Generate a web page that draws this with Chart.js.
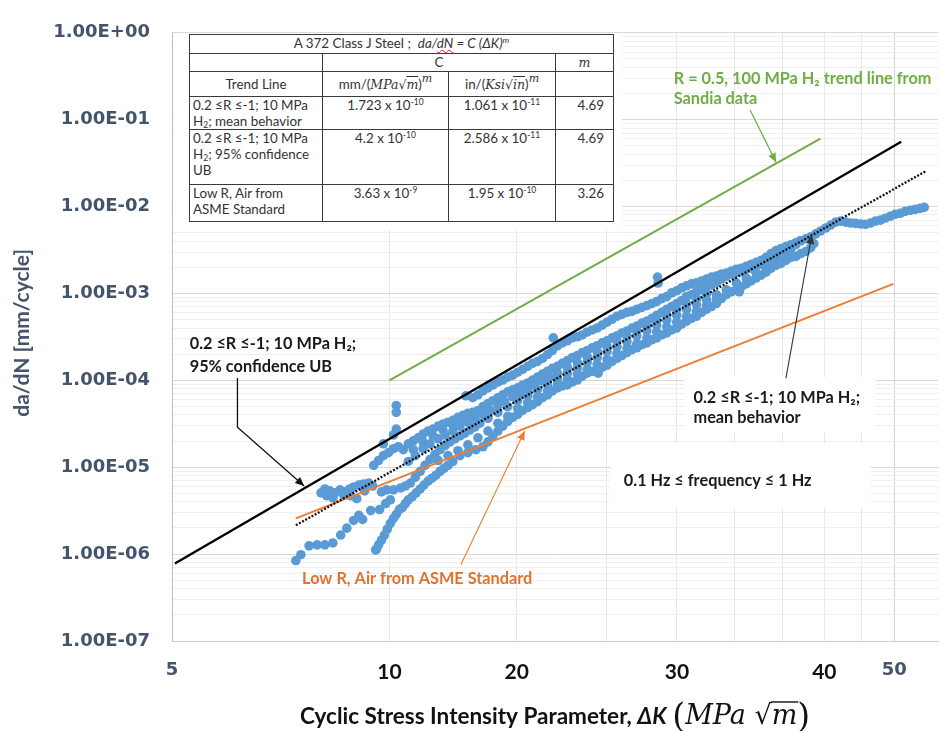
<!DOCTYPE html>
<html><head><meta charset="utf-8">
<script src="https://cdn.jsdelivr.net/npm/chart.js@4.4.1/dist/chart.umd.min.js"></script>
<style>
html,body{margin:0;padding:0;background:#fff;}
#wrap{position:relative;width:943px;height:731px;overflow:hidden;background:#fff;}
#c{position:absolute;left:0;top:0;}
#tbl{position:absolute;left:189px;top:34px;width:424px;border-collapse:collapse;table-layout:fixed;
 font-family:Lato,"Open Sans",sans-serif;font-size:13.4px;color:#333;background:#fff;}
#tbl td{border:1px solid #3a3a3a;padding:0 3px;line-height:16px;vertical-align:top;overflow:hidden;white-space:nowrap;}
#tbl td.c{text-align:center;}
#tbl td.r{text-align:right;padding-right:9px;}
#tbl td.mid{vertical-align:middle;}
#tbl .mi{font-family:"DejaVu Serif",serif;font-style:italic;font-size:12.5px;}
#tbl sup{font-size:8.5px;vertical-align:5px;line-height:0;}
#tbl sup.mi{font-size:11px;vertical-align:7px;}
#tbl sub{font-size:8.5px;vertical-align:-2px;line-height:0;}
#tbl .sq{text-decoration:underline wavy #d22;text-decoration-thickness:1px;}
#tbl .ov{text-decoration:overline;}
</style></head>
<body>
<div id="wrap">
<canvas id="c" width="943" height="731"></canvas>
<table id="tbl">
<colgroup><col style="width:133px"><col style="width:126px"><col style="width:107px"><col style="width:58px"></colgroup>
<tr style="height:19px"><td class="c" colspan="4">A 372 Class J Steel ;&nbsp; <i>da/<span class="sq">dN</span> = C (ΔK)</i><sup><i>m</i></sup></td></tr>
<tr style="height:18px"><td></td><td class="c" colspan="2">C</td><td class="c"><span class="mi">m</span></td></tr>
<tr style="height:25px"><td class="c mid">Trend Line</td><td class="c mid">mm/(<span class="mi">MPa√<span class="ov">m</span></span>)<sup class="mi">m</sup></td><td class="c mid">in/(<span class="mi">Ksi√<span class="ov">in</span></span>)<sup class="mi">m</sup></td><td></td></tr>
<tr style="height:32px"><td>0.2 ≤R ≤-1; 10 MPa<br>H<sub>2</sub>; mean behavior</td><td class="c">1.723 x 10<sup>-10</sup></td><td class="c">1.061 x 10<sup>-11</sup></td><td class="r">4.69</td></tr>
<tr style="height:55px"><td>0.2 ≤R ≤-1; 10 MPa<br>H<sub>2</sub>; 95% confidence<br>UB</td><td class="c">4.2 x 10<sup>-10</sup></td><td class="c">2.586 x 10<sup>-11</sup></td><td class="r">4.69</td></tr>
<tr style="height:37px"><td>Low R, Air from<br>ASME Standard</td><td class="c">3.63 x 10<sup>-9</sup></td><td class="c">1.95 x 10<sup>-10</sup></td><td class="r">3.26</td></tr>
</table>
</div>
<script>
// ---------------- DATA (ΔK in MPa√m, da/dN in mm/cycle) ----------------
const trackUpper = [[12.76,6.64e-5],[13.04,6.31e-5],[13.26,6.82e-5],[13.47,7.57e-5],[13.69,8.18e-5],[13.91,8.85e-5],[14.13,9.57e-5],[14.35,1.008e-4],[14.58,1.089e-4],[14.81,1.148e-4],
[15.05,1.240e-4],[15.29,1.341e-4],[15.54,1.450e-4],[15.78,1.568e-4],[16.03,1.651e-4],[16.29,1.785e-4],[16.55,1.98e-4],[16.81,2.20e-4],[17.08,2.50e-4],[17.35,2.70e-4],
[17.63,2.85e-4],[17.91,3.08e-4],[18.20,3.17e-4],[18.49,3.33e-4],[18.78,3.60e-4],[19.08,3.80e-4],[19.39,4.00e-4],[19.70,4.32e-4],[20.01,4.68e-4],[20.33,5.05e-4],
[20.65,5.46e-4],[20.98,5.75e-4],[21.32,6.06e-4],[21.66,6.22e-4],[22.00,6.55e-4],[22.36,6.90e-4],[22.72,7.26e-4],[23.08,7.65e-4],[23.44,8.06e-4],[23.82,8.72e-4],
[24.20,9.19e-4],[24.59,1.019e-3],[24.98,1.073e-3],[25.38,1.160e-3],[25.78,1.222e-3],[26.19,1.288e-3],[26.61,1.322e-3],[27.04,1.392e-3],[27.47,1.466e-3],[27.91,1.545e-3],
[28.35,1.585e-3],[28.81,1.669e-3],[29.27,1.713e-3],[29.73,1.805e-3],[30.21,1.90e-3],[30.69,1.95e-3],[31.18,2.05e-3],[31.68,2.16e-3],[32.19,2.28e-3],[32.70,2.40e-3],
[33.22,2.60e-3],[33.75,2.88e-3],[34.29,3.12e-3],[34.84,3.28e-3],[35.39,3.46e-3],[35.96,3.64e-3],[36.53,3.84e-3],[37.11,4.04e-3],[37.71,4.26e-3],[38.31,4.48e-3],
[38.92,4.85e-3],[39.54,5.24e-3],[40.18,5.67e-3],[40.82,6.13e-3],[41.47,6.63e-3],[42.13,6.80e-3],[42.81,6.63e-3],[43.49,6.46e-3],[44.18,6.40e-3],[44.89,6.29e-3],
[45.61,6.25e-3],[46.33,6.46e-3],[47.07,6.80e-3],[47.83,6.98e-3],[48.59,7.35e-3],[49.37,7.74e-3],[50.15,8.15e-3],[50.95,8.37e-3],[51.77,8.81e-3],[52.59,9.04e-3],
[53.43,9.28e-3],[54.29,9.53e-3],[54.99,9.78e-3]];

const trackBandTop = [[9.51,1.050e-5],[9.66,1.195e-5],[9.81,1.361e-5],[9.97,1.471e-5],[10.13,1.633e-5],[10.29,1.72e-5],[10.45,1.59e-5],[10.62,1.86e-5],[10.79,2.01e-5],[10.96,2.18e-5],
[11.13,2.41e-5],[11.31,2.61e-5],[11.49,2.75e-5],[11.68,2.97e-5],[11.86,3.13e-5],[12.05,3.30e-5],[12.24,3.47e-5],[12.44,3.75e-5],[12.64,3.95e-5],[12.84,4.17e-5],
[13.04,4.28e-5],[13.26,4.50e-5],[13.47,4.99e-5],[13.69,5.40e-5],[13.91,5.83e-5],[14.13,6.31e-5],[14.35,6.82e-5],[14.58,7.37e-5],[14.81,7.77e-5],[15.05,8.18e-5],
[15.29,8.85e-5],[15.54,9.32e-5],[15.78,1.008e-4],[16.03,1.089e-4],[16.29,1.178e-4],[16.55,1.273e-4],[16.81,1.376e-4],[17.08,1.450e-4],[17.35,1.568e-4],[17.63,1.695e-4],
[17.91,1.832e-4],[18.20,1.930e-4],[18.49,2.09e-4],[18.78,2.20e-4],[19.08,2.37e-4],[19.39,2.50e-4],[19.70,2.70e-4],[20.01,2.85e-4],[20.33,3.08e-4],[20.65,3.25e-4],
[20.98,3.51e-4],[21.32,3.70e-4],[21.66,4.00e-4],[22.00,4.21e-4],[22.36,4.56e-4],[22.72,4.80e-4],[23.08,5.18e-4],[23.44,5.60e-4],[23.82,6.06e-4],[24.20,6.55e-4],
[24.59,7.08e-4],[24.98,7.65e-4],[25.38,8.27e-4],[25.78,9.19e-4],[26.19,9.68e-4],[26.61,1.046e-3],[27.04,1.101e-3],[27.47,1.191e-3],[27.91,1.254e-3],[28.35,1.322e-3],
[28.81,1.466e-3],[29.27,1.585e-3],[29.73,1.669e-3],[30.21,1.759e-3],[30.69,1.805e-3],[31.18,1.90e-3],[31.68,1.95e-3],[32.19,2.05e-3],[32.70,2.16e-3],[33.22,2.28e-3],
[33.75,2.40e-3],[34.29,2.60e-3],[34.84,2.81e-3],[35.39,3.04e-3],[35.96,3.28e-3],[36.53,3.64e-3],[37.0,4.04e-3]];

const trackBandTop2 = [[10.79,1.59e-5],[11.13,1.96e-5],[11.49,2.29e-5],[11.86,2.68e-5],[12.24,3.05e-5],[12.64,3.47e-5],[13.04,3.85e-5],[13.47,4.62e-5]];

const trackBandMid = [[9.75,5.20e-6],[9.91,5.48e-6],[10.13,5.48e-6],[10.36,5.77e-6],[10.52,6.08e-6],[10.69,6.58e-6],[10.86,7.67e-6],[11.03,8.98e-6],[11.20,1.050e-5],[11.38,1.226e-5],
[11.56,1.397e-5],[11.75,1.59e-5],[11.94,1.77e-5],[12.13,1.96e-5],[12.32,2.12e-5],[12.52,2.29e-5],[12.72,2.47e-5],[12.92,2.68e-5],[13.13,2.90e-5],[13.34,3.21e-5],
[13.69,3.65e-5],[14.13,4.28e-5],[14.58,4.99e-5],[15.05,5.83e-5],[15.54,6.64e-5],[16.03,7.77e-5],[16.55,8.85e-5],[17.08,1.034e-4],[17.63,1.209e-4],[18.20,1.376e-4],
[18.78,1.609e-4],[19.39,1.832e-4],[20.01,2.14e-4],[20.65,2.44e-4],[21.32,2.78e-4],[22.00,3.25e-4],[22.72,3.70e-4],[23.44,4.32e-4],[24.20,4.93e-4],[24.98,5.60e-4],
[25.78,6.55e-4],[26.61,7.45e-4],[27.47,8.49e-4],[28.35,9.68e-4],[29.27,1.101e-3],[30.21,1.322e-3],[31.18,1.505e-3],[32.19,1.713e-3],[33.22,1.95e-3],[34.29,2.22e-3]];

const trackBandMid2 = [[10.62,1.165e-5],[10.86,1.361e-5],[11.13,1.633e-5],[11.38,1.86e-5],[11.68,2.12e-5],[11.94,2.35e-5],[12.24,2.61e-5],[12.52,2.97e-5],[12.84,3.30e-5],[13.13,3.65e-5],
[13.47,4.06e-5],[13.78,4.50e-5],[14.13,5.12e-5],[14.44,5.68e-5],[14.81,6.47e-5],[15.15,7.18e-5],[15.54,7.97e-5],[15.88,8.85e-5],[16.29,9.82e-5],[16.66,1.089e-4],
[17.08,1.209e-4],[17.63,1.413e-4],[18.20,1.609e-4],[18.78,1.880e-4],[19.39,2.14e-4],[20.01,2.44e-4],[20.65,2.85e-4],[21.32,3.25e-4],[22.00,3.70e-4],[22.72,4.21e-4],
[23.44,4.93e-4],[24.20,5.60e-4],[24.98,6.55e-4],[25.78,7.65e-4],[26.61,8.72e-4],[27.47,9.93e-4]];

const trackBandMid3 = [[11.68,1.195e-5],[12.05,1.361e-5],[12.44,1.55e-5],[12.84,1.81e-5],[13.26,2.18e-5],[13.69,2.61e-5],[14.13,3.21e-5],[14.58,3.85e-5],[15.05,4.74e-5],[15.54,5.54e-5],
[16.03,6.47e-5],[16.55,7.57e-5],[17.08,8.85e-5],[17.63,1.034e-4],[18.20,1.178e-4],[18.78,1.341e-4],[19.39,1.528e-4],[20.01,1.739e-4],[20.65,2.03e-4],[21.32,2.32e-4],
[22.00,2.63e-4],[22.72,3.08e-4],[23.44,3.60e-4],[24.20,4.10e-4],[24.98,4.68e-4],[25.78,5.46e-4],[26.61,6.22e-4],[27.47,7.26e-4],[28.35,8.49e-4]];

const trackBandLow = [[12.52,1.361e-5],[12.84,1.471e-5],[13.17,1.59e-5],[13.47,1.72e-5],[13.69,1.96e-5],[13.91,2.29e-5],[14.13,2.61e-5],[14.35,2.97e-5],[14.58,3.38e-5],[14.81,3.75e-5],
[15.05,4.06e-5],[15.29,4.50e-5],[15.54,4.87e-5],[15.78,5.26e-5],[16.03,5.68e-5],[16.29,6.31e-5],[16.55,6.82e-5],[16.81,7.57e-5],[17.08,8.18e-5],[17.35,8.62e-5],
[17.63,8.85e-5],[17.91,9.57e-5],[18.20,1.008e-4],[18.49,1.118e-4],[18.78,1.209e-4],[19.08,1.273e-4],[19.39,1.307e-4],[19.70,1.413e-4],[20.01,1.489e-4],[20.33,1.651e-4],
[20.65,1.785e-4],[20.98,1.930e-4],[21.32,2.09e-4],[21.66,2.26e-4],[22.00,2.37e-4],[22.36,2.57e-4],[22.72,2.70e-4],[23.08,2.92e-4],[23.44,3.08e-4],[23.82,3.33e-4],
[24.20,3.51e-4],[24.59,3.80e-4],[24.98,4.00e-4],[25.38,4.43e-4],[25.78,4.80e-4],[26.19,5.18e-4],[26.61,5.46e-4],[27.04,6.06e-4],[27.47,6.55e-4],[27.91,7.08e-4],
[28.35,7.65e-4],[28.81,8.72e-4],[29.27,9.68e-4],[29.73,1.046e-3],[30.21,1.101e-3],[30.69,1.191e-3],[31.18,1.288e-3],[31.68,1.392e-3],[32.19,1.505e-3],[32.70,1.627e-3],
[33.22,1.759e-3],[33.75,1.95e-3],[34.29,2.11e-3],[34.84,2.22e-3],[35.39,2.40e-3],[35.96,2.60e-3],[36.53,2.67e-3],[37.11,2.88e-3],[37.71,3.04e-3],[38.31,3.37e-3],[38.68,3.74e-3]];

const trackSteep = [[9.57,1.12e-6],[9.60,1.151e-6],[9.66,1.277e-6],[9.75,1.454e-6],[9.84,1.657e-6],[9.93,1.936e-6],[10.03,2.26e-6],[10.13,2.58e-6],[10.22,2.86e-6],[10.32,3.26e-6],
[10.42,3.43e-6],[10.52,3.81e-6],[10.62,4.22e-6],[10.75,4.57e-6],[10.89,5.07e-6],[11.03,5.62e-6],[11.16,6.24e-6],[11.31,6.93e-6],[11.45,7.48e-6],[11.60,8.09e-6],
[11.75,8.98e-6],[11.90,9.71e-6],[12.05,1.050e-5],[12.24,1.165e-5]];

const trackLeftRow = [[8.04,5.07e-6],[8.14,5.62e-6],[8.27,5.34e-6],[8.40,5.07e-6],[8.54,5.48e-6],[8.67,5.20e-6],[8.81,5.62e-6],[8.92,5.92e-6],[9.01,4.34e-6],[9.07,6.24e-6],
[9.21,6.41e-6],[9.36,6.58e-6],[9.48,6.08e-6],[8.19,4.69e-6],[8.35,4.45e-6],[8.64,4.81e-6],[8.84,4.69e-6],[9.24,5.34e-6]];

const trackSparse = [[7.42,8.43e-7],[7.54,9.85e-7],[7.74,1.245e-6],[7.94,1.277e-6],[8.14,1.277e-6],[8.35,1.345e-6],[8.56,1.657e-6],[8.73,1.99e-6],[8.92,2.44e-6],[9.07,2.79e-6],
[9.18,2.51e-6],[9.42,3.17e-6],[9.69,3.26e-6],[9.88,3.81e-6],[10.03,4.22e-6]];

const outliers = [[9.81,1.86e-5],[10.13,2.35e-5],[10.22,2.75e-5],[10.22,4.28e-5],[10.22,5.12e-5],[16.86,3.08e-4],[23.5,1.545e-3],[23.55,1.32e-3],[19.45,1.209e-4],[30.5,1.046e-3]];

// trend lines (end points)
const lineUB95   = [[5.046,7.80e-7],[51.1,0.0558]];
const lineMean   = [[7.42,2.15e-6],[55.3,0.0256]];
const lineASME   = [[7.42,2.58e-6],[49.84,1.288e-3]];
const lineSandia = [[10.0,1.0e-4],[39.5,0.0604]];

// axes
const xGridValues = [5,10,15,20,25,30,35,40,45,50];
const xLabelAt    = [5,10,15,25,40,50];
const xLabelText  = ['5','10','20','30','40','50'];
const yDecades      = [1e-7,1e-6,1e-5,1e-4,1e-3,1e-2,1e-1,1];
const yDecadeLabels = ['1.00E-07','1.00E-06','1.00E-05','1.00E-04','1.00E-03','1.00E-02','1.00E-01','1.00E+00'];
const yMinorSteps   = [1,2,3,4,5,6,7,8,9];

// annotations (anchored in data coordinates)
const noteTexts = [
  {k:24.75, v:0.295,   lines:['R = 0.5, 100 MPa H\u2082 trend line from','Sandia data'], color:'#70AD47', lh:20},
  {k:5.29,  v:2.64e-4, lines:['0.2 \u2264R \u2264-1; 10 MPa H\u2082;','95% confidence UB'], color:'#1a1a1a', lh:23},
  {k:7.57,  v:5.14e-7, lines:['Low R, Air from ASME Standard'], color:'#DC7430', lh:20},
  {k:26.36, v:6.31e-5, lines:['0.2 \u2264R \u2264-1; 10 MPa H\u2082;','mean behavior'], color:'#1a1a1a', lh:20},
  {k:21.11, v:6.92e-6, lines:['0.1 Hz \u2264 frequency \u2264 1 Hz'], color:'#1a1a1a', lh:20}
];
const noteArrows = [
  {pts:[[31.58,0.1283],[34.29,0.0324]], color:'#70AD47', w:1.3},
  {pts:[[6.16,1.062e-4],[6.16,2.89e-5],[7.62,6.08e-6]], color:'#111', w:1.3},
  {pts:[[12.56,7.60e-7],[15.39,2.61e-5]], color:'#ED7D31', w:1.1},
  {pts:[[35.39,1.062e-4],[38.43,4.73e-3]], color:'#333', w:1.1}
];
const whiteBoxes = [
  {k0:5.03, k1:20.98, v0:5.4e-3, v1:0.97},
  {k0:25.62, k1:47.07, v0:2.54e-5, v1:1.09e-4},
  {k0:20.2, k1:46.33, v0:3.43e-6, v1:1.86e-5}
];

// ---------------- CHART ----------------
const toXY = arr => arr.map(p => ({x:p[0], y:p[1]}));
const BLUE = '#5B9BD5';
const scatterTracks = [trackUpper, trackBandTop, trackBandTop2, trackBandMid2, trackBandMid, trackBandMid3, trackBandLow, trackSteep, trackLeftRow, trackSparse, outliers];

const datasets = [
  {data:toXY(lineMean), showLine:true, borderColor:'#111', borderWidth:2.3, borderDash:[2,1.6], pointRadius:0, order:0},
  {data:toXY(lineUB95), showLine:true, borderColor:'#000', borderWidth:2.3, pointRadius:0, order:0},
  {data:toXY(lineASME), showLine:true, borderColor:'#ED7D31', borderWidth:2, pointRadius:0, order:0},
  {data:toXY(lineSandia), showLine:true, borderColor:'#70AD47', borderWidth:2, pointRadius:0, order:0}
];
scatterTracks.forEach(t => datasets.push({data:toXY(t), showLine:false, pointRadius:4.8, pointBackgroundColor:BLUE, pointBorderWidth:0, pointBorderColor:BLUE, order:1}));

const yTickValues = [];
yDecades.forEach(d => yMinorSteps.forEach(m => { const v = Number((m*d).toPrecision(3)); if (v <= 1) yTickValues.push(v); }));
const isDecade = v => yDecades.some(d => Math.abs(d - v) / d < 1e-6);

function drawArrowHead(ctx, x0, y0, x1, y1, color) {
  const a = Math.atan2(y1 - y0, x1 - x0), L = 9, W = 4;
  ctx.fillStyle = color;
  ctx.beginPath();
  ctx.moveTo(x1, y1);
  ctx.lineTo(x1 - L*Math.cos(a) + W*Math.sin(a), y1 - L*Math.sin(a) - W*Math.cos(a));
  ctx.lineTo(x1 - L*Math.cos(a) - W*Math.sin(a), y1 - L*Math.sin(a) + W*Math.cos(a));
  ctx.closePath(); ctx.fill();
}

const notesPlugin = {
  id:'notes',
  beforeDatasetsDraw(chart) {
    const {ctx, scales:{x, y}} = chart;
    ctx.save(); ctx.fillStyle = '#fff';
    whiteBoxes.forEach(b => {
      const x0 = x.getPixelForValue(b.k0), x1 = x.getPixelForValue(b.k1);
      const y0 = y.getPixelForValue(b.v0), y1 = y.getPixelForValue(b.v1);
      ctx.fillRect(Math.min(x0,x1), Math.min(y0,y1), Math.abs(x1-x0), Math.abs(y1-y0));
    });
    ctx.restore();
  },
  afterDatasetsDraw(chart) {
    const {ctx, scales:{x, y}} = chart;
    ctx.save();
    noteArrows.forEach(a => {
      const P = a.pts.map(p => [x.getPixelForValue(p[0]), y.getPixelForValue(p[1])]);
      ctx.strokeStyle = a.color; ctx.lineWidth = a.w;
      ctx.beginPath(); ctx.moveTo(P[0][0], P[0][1]);
      for (let i = 1; i < P.length; i++) ctx.lineTo(P[i][0], P[i][1]);
      ctx.stroke();
      const n = P.length;
      drawArrowHead(ctx, P[n-2][0], P[n-2][1], P[n-1][0], P[n-1][1], a.color);
    });
    ctx.font = 'bold 16.3px Lato, "Open Sans", sans-serif';
    ctx.textBaseline = 'middle'; ctx.textAlign = 'left';
    noteTexts.forEach(t => {
      const px = x.getPixelForValue(t.k), py = y.getPixelForValue(t.v);
      ctx.fillStyle = t.color;
      t.lines.forEach((ln, i) => ctx.fillText(ln, px, py + i*t.lh));
    });
    ctx.restore();
  },
  afterDraw(chart) {
    const {ctx, chartArea:ca} = chart;
    ctx.save();
    // y-axis title
    ctx.translate(22, (ca.top + ca.bottom)/2 - 4);
    ctx.rotate(-Math.PI/2);
    ctx.font = 'bold 21px Lato, "Open Sans", sans-serif';
    ctx.fillStyle = '#44546A'; ctx.textAlign = 'center'; ctx.textBaseline = 'middle';
    ctx.fillText('da/dN [mm/cycle]', 0, 0);
    ctx.restore();
    // x-axis title
    ctx.save();
    const parts = [
      {t:'Cyclic Stress Intensity Parameter, ', f:'bold 22.5px Lato, sans-serif'},
      {t:'\u0394K', f:'italic bold 22.5px Lato, sans-serif'},
      {t:' ', f:'22px Lato, sans-serif'},
      {t:'(', f:'33px "DejaVu Serif", serif', dy:3},
      {t:'MPa', f:'italic 27px "DejaVu Serif", serif'},
      {t:' \u221A', f:'27px "DejaVu Serif", serif'},
      {t:'m', f:'italic 27px "DejaVu Serif", serif', over:true},
      {t:')', f:'33px "DejaVu Serif", serif', dy:3}
    ];
    let total = 0;
    parts.forEach(p => { ctx.font = p.f; p.w = ctx.measureText(p.t).width; total += p.w; });
    let xx = (ca.left + ca.right)/2 - total/2;
    const base = ca.bottom + 83;
    ctx.fillStyle = '#111'; ctx.strokeStyle = '#111'; ctx.textBaseline = 'alphabetic'; ctx.textAlign = 'left';
    parts.forEach(p => {
      ctx.font = p.f; ctx.fillText(p.t, xx, base + (p.dy || 0));
      if (p.over) { ctx.lineWidth = 1.4; ctx.beginPath(); ctx.moveTo(xx - 1, base - 22); ctx.lineTo(xx + p.w + 1, base - 22); ctx.stroke(); }
      xx += p.w;
    });
    ctx.restore();
  }
};

new Chart(document.getElementById('c'), {
  type:'scatter',
  data:{datasets},
  options:{
    responsive:false, animation:false,
    layout:{padding:{top:21, right:0, bottom:0, left:0}},
    plugins:{legend:{display:false}, tooltip:{enabled:false}},
    scales:{
      x:{
        type:'logarithmic', min:5, max:57.5, position:'bottom',
        afterBuildTicks: a => { a.ticks = xGridValues.map(v => ({value:v})); },
        afterFit: s => { s.height = 90; },
        grid:{drawTicks:false, lineWidth:1, color: c => (c.tick && c.tick.value === 5) ? 'rgba(0,0,0,0)' : (c.tick && c.tick.value === 50 ? '#d4d4d4' : '#e8e8e8')},
        border:{display:true, color:'#d0d0d0', width:1},
        ticks:{
          autoSkip:false, maxRotation:0, minRotation:0, padding:19,
          callback: v => { const i = xLabelAt.indexOf(v); return i >= 0 ? xLabelText[i] : ''; },
          font: c => (c.tick && (c.tick.value === 5 || c.tick.value === 50))
                 ? {family:'"DejaVu Sans", sans-serif', weight:'bold', size:18}
                 : {family:'Lato, sans-serif', weight:'bold', size:21},
          color: c => (c.tick && (c.tick.value === 5 || c.tick.value === 50)) ? '#44546A' : '#111'
        }
      },
      y:{
        type:'logarithmic', min:1e-7, max:1, position:'left',
        afterBuildTicks: a => { a.ticks = yTickValues.map(v => ({value:v})); },
        afterFit: s => { s.width = 172; },
        grid:{drawTicks:false, lineWidth:1, color: c => (c.tick && isDecade(c.tick.value)) ? '#d9d9d9' : '#efefef'},
        border:{display:true, color:'#bdbdbd', width:1},
        ticks:{
          autoSkip:false, padding:22,
          callback: v => { const i = yDecades.findIndex(d => Math.abs(d - v)/d < 1e-6); return i >= 0 ? yDecadeLabels[i] : ''; },
          font:{family:'"DejaVu Sans", sans-serif', weight:'bold', size:18},
          color:'#44546A'
        }
      }
    }
  },
  plugins:[notesPlugin]
});
</script>
</body></html>
